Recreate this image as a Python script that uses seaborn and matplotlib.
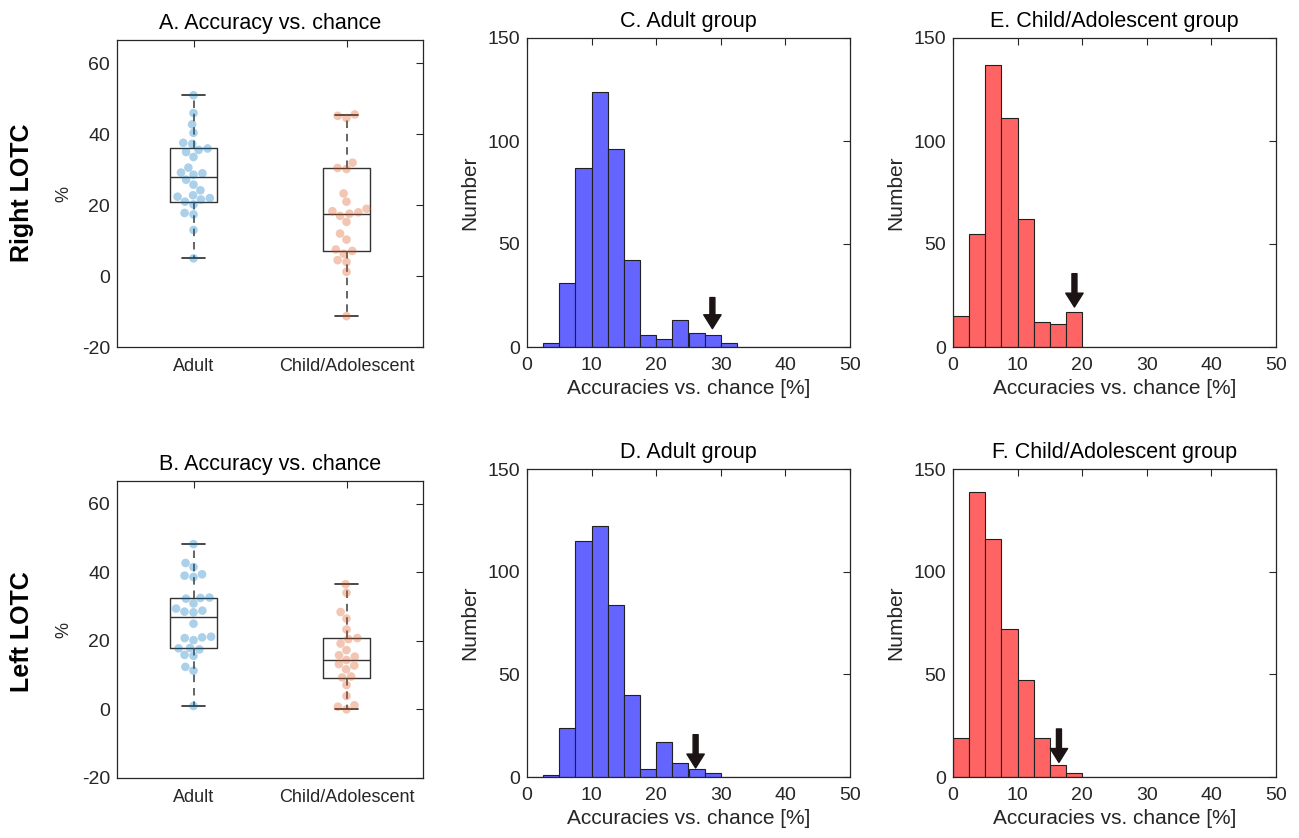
import numpy as np
import pandas as pd
import matplotlib
matplotlib.use("Agg")
import matplotlib.pyplot as plt
import seaborn as sns

# ---------------- data ----------------
groups = ["Adult", "Child/Adolescent"]

right_adult = [51.0, 46.0, 42.8, 40.4, 37.6, 37.3, 36.0, 35.6, 35.0, 33.6, 30.6,
               29.2, 29.0, 28.6, 27.2, 25.8, 24.2, 22.8, 22.4, 22.0, 21.6, 21.0,
               20.2, 17.8, 17.4, 13.0, 5.0]
right_child = [45.6, 45.2, 44.6, 32.0, 30.5, 30.2, 23.3, 21.0, 19.0, 18.3, 18.0,
               17.6, 17.0, 15.3, 12.0, 10.3, 7.5, 7.1, 6.3, 4.5, 4.0, 1.2, -11.3]
left_adult = [48.2, 42.7, 41.5, 39.4, 39.0, 38.6, 32.6, 32.5, 32.3, 30.9, 29.4,
              28.8, 28.5, 28.3, 25.0, 21.2, 21.0, 20.8, 20.2, 17.9, 17.8, 17.5,
              15.9, 15.6, 12.4, 11.3, 1.0]
left_child = [36.5, 34.0, 28.4, 26.5, 23.3, 20.8, 20.5, 19.2, 17.3, 15.8, 15.4,
              14.4, 13.2, 12.8, 11.7, 9.6, 9.3, 7.1, 3.9, 1.2, 0.8, 0.0]

# box statistics: [lower whisker, Q1, median, Q3, upper whisker]
right_adult_box = [5.0, 21.0, 28.0, 36.0, 51.0]
right_child_box = [-11.3, 7.2, 17.5, 30.5, 45.5]
left_adult_box = [1.0, 17.8, 26.8, 32.5, 48.2]
left_child_box = [0.0, 9.2, 14.5, 20.7, 36.5]

# histogram bins (width 2.5) and counts
bin_edges = [0.0, 2.5, 5.0, 7.5, 10.0, 12.5, 15.0, 17.5, 20.0, 22.5, 25.0, 27.5,
             30.0, 32.5, 35.0, 37.5, 40.0, 42.5, 45.0, 47.5, 50.0]
counts_c = [0, 2, 31, 87, 124, 96, 42, 6, 4, 13, 7, 6, 2, 0, 0, 0, 0, 0, 0, 0]
counts_d = [0, 1, 24, 115, 122, 84, 40, 4, 17, 7, 4, 2, 0, 0, 0, 0, 0, 0, 0, 0]
counts_e = [15, 55, 137, 111, 62, 12, 11, 17, 0, 0, 0, 0, 0, 0, 0, 0, 0, 0, 0, 0]
counts_f = [19, 139, 116, 72, 47, 19, 6, 2, 0, 0, 0, 0, 0, 0, 0, 0, 0, 0, 0, 0]

# observed accuracy (arrow x), arrow tail and tip heights
arrow_c = [28.7, 24.0, 8.9]
arrow_d = [26.1, 20.6, 4.4]
arrow_e = [18.8, 35.6, 19.4]
arrow_f = [16.4, 23.4, 7.1]

# ---------------- style ----------------
sns.set_theme(style="white")
plt.rcParams["font.family"] = ["Liberation Sans", "DejaVu Sans"]
TXT = "#262626"
plt.rcParams.update({
    "axes.edgecolor": "#262626",
    "axes.labelcolor": TXT,
    "xtick.color": TXT,
    "ytick.color": TXT,
    "text.color": TXT,
    "axes.linewidth": 0.9,
})

BLUE_PT = (0.0, 0.447, 0.741)
ORANGE_PT = (0.85, 0.325, 0.098)
BLUE_BAR = "#6464FF"
RED_BAR = "#FF6464"

fig = plt.figure(figsize=(12.99, 8.38), dpi=100)

def fpos(l, t, r, b):
    W, H = 1299.0, 838.0
    return [l / W, 1 - b / H, (r - l) / W, (b - t) / H]

axA = fig.add_axes(fpos(117, 40, 423, 347))
axB = fig.add_axes(fpos(117, 481, 423, 778))
axC = fig.add_axes(fpos(527, 38, 850, 347))
axD = fig.add_axes(fpos(527, 469, 850, 777))
axE = fig.add_axes(fpos(953, 38, 1276, 347))
axF = fig.add_axes(fpos(953, 469, 1276, 777))


def style_ticks(ax):
    ax.tick_params(direction="in", top=True, right=True, length=5, width=0.8,
                   labelsize=14)
    ax.tick_params(axis="x", pad=7)
    ax.tick_params(axis="y", pad=5)
    for s in ax.spines.values():
        s.set_visible(True)
        s.set_color("#262626")


def box_panel(ax, adult, child, abox, cbox, title):
    df = pd.DataFrame({
        "group": [groups[0]] * len(adult) + [groups[1]] * len(child),
        "value": list(adult) + list(child),
    })
    sns.swarmplot(data=df, x="group", y="value", hue="group", order=groups,
                  hue_order=groups, palette=[BLUE_PT, ORANGE_PT], alpha=0.33,
                  size=6.2, linewidth=0, legend=False, ax=ax, zorder=3)
    stats = []
    for b in (abox, cbox):
        stats.append(dict(whislo=b[0], q1=b[1], med=b[2], q3=b[3], whishi=b[4],
                          fliers=[]))
    ax.bxp(stats, positions=[0, 1], widths=0.31, capwidths=0.15,
           showfliers=False, manage_ticks=False,
           boxprops=dict(color="#333333", lw=1.0),
           whiskerprops=dict(color="#4a4a4a", lw=1.2, ls=(0, (4.5, 3.5))),
           capprops=dict(color="#2a2a2a", lw=1.2),
           medianprops=dict(color="#333333", lw=1.0))
    ax.set_xlim(-0.5, 1.5)
    ax.set_ylim(-20, 66.6)
    ax.set_yticks([-20, 0, 20, 40, 60])
    ax.set_yticklabels(["-20", "0", "20", "40", "60"])
    ax.set_xticks([0, 1])
    ax.set_xticklabels(groups)
    style_ticks(ax)
    ax.tick_params(axis="x", labelsize=13, pad=8)
    ax.set_xlabel("")
    ax.set_ylabel("%", fontsize=13, labelpad=7)
    ax.set_title(title, fontsize=15.5, color="black", pad=8)


def hist_panel(ax, counts, color, arrow, title):
    edges = list(bin_edges)
    centers = [(edges[i] + edges[i + 1]) / 2 for i in range(len(counts))]
    hdf = pd.DataFrame({"center": centers, "count": [float(c) for c in counts]})
    hdf = hdf[hdf["count"] > 0].reset_index(drop=True)
    sns.histplot(data=hdf, x="center", weights="count", bins=edges,
                 color=color, alpha=1.0, edgecolor="#202020", linewidth=0.8,
                 ax=ax)
    ax.set_xlim(0, 50)
    ax.set_ylim(0, 150)
    ax.set_xticks([0, 10, 20, 30, 40, 50])
    ax.set_yticks([0, 50, 100, 150])
    style_ticks(ax)
    ax.set_xlabel("Accuracies vs. chance [%]", fontsize=15, labelpad=4)
    ax.set_ylabel("Number", fontsize=15, labelpad=6)
    ax.set_title(title, fontsize=15.5, color="black", pad=8)
    ax.annotate("", xy=(arrow[0], arrow[2]), xytext=(arrow[0], arrow[1]),
                arrowprops=dict(facecolor="#1c1414", edgecolor="#1c1414",
                                width=3.6, headwidth=12.5, headlength=10,
                                shrink=0.0))


box_panel(axA, right_adult, right_child, right_adult_box, right_child_box,
          "A. Accuracy vs. chance")
box_panel(axB, left_adult, left_child, left_adult_box, left_child_box,
          "B. Accuracy vs. chance")
hist_panel(axC, counts_c, BLUE_BAR, arrow_c, "C. Adult group")
hist_panel(axD, counts_d, BLUE_BAR, arrow_d, "D. Adult group")
hist_panel(axE, counts_e, RED_BAR, arrow_e, "E. Child/Adolescent group")
hist_panel(axF, counts_f, RED_BAR, arrow_f, "F. Child/Adolescent group")

fig.text(22 / 1299, 1 - 193 / 838, "Right LOTC", rotation=90, fontsize=18,
         fontweight="bold", color="black", ha="center", va="center")
fig.text(22 / 1299, 1 - 632 / 838, "Left LOTC", rotation=90, fontsize=18,
         fontweight="bold", color="black", ha="center", va="center")

fig.savefig("out.png", dpi=100, facecolor="white")
